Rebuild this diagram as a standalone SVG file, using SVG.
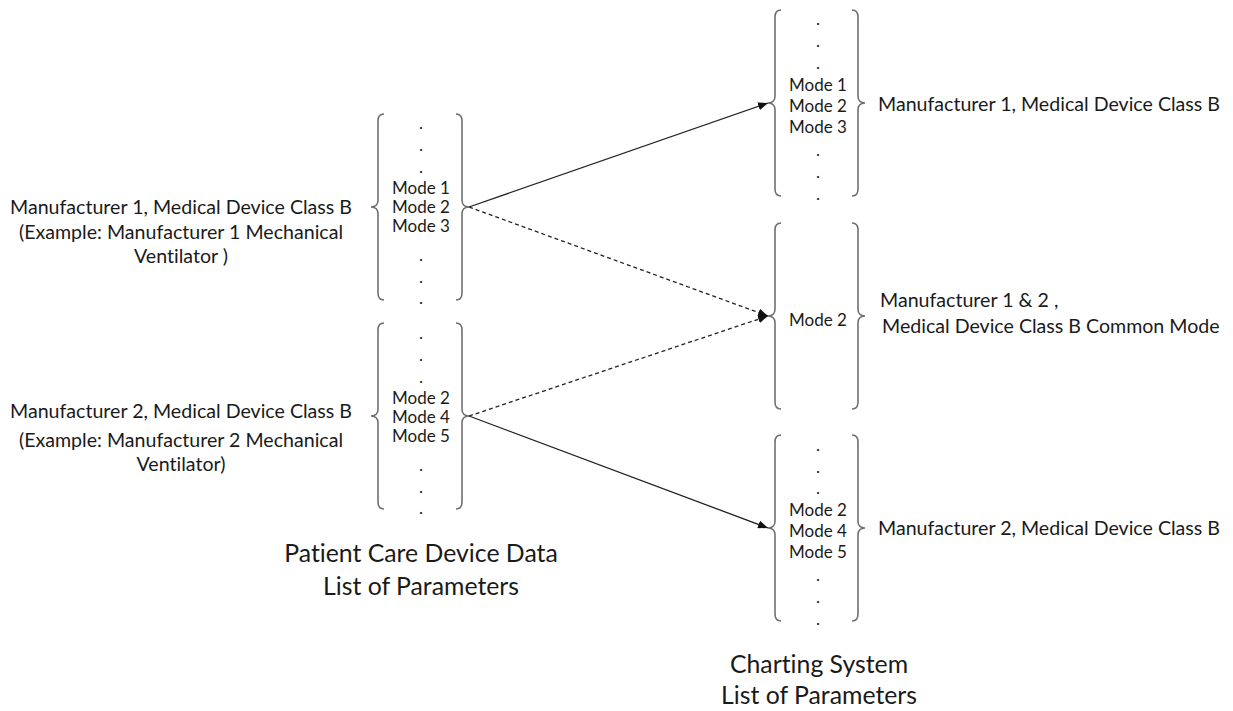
<svg xmlns="http://www.w3.org/2000/svg" width="1233" height="711" viewBox="0 0 1233 711">
  <style>
    text { font-family: Lato, "Liberation Sans", sans-serif; fill: #1a1a1a; font-variant-ligatures: none; }
    .mode { font-size: 17px; text-anchor: middle; }
    .label { font-size: 19.6px; }
    .lc { text-anchor: middle; }
    .caption { font-size: 24.8px; text-anchor: middle; }
    .brace { fill: none; stroke: #707070; stroke-width: 1.6; }
    .link { fill: none; stroke: #222; stroke-width: 1.3; }
    .dashed { stroke-dasharray: 4 3; }
  </style>
  <defs>
    <!-- opening curly brace, tip at (-7,0), spanning 186px -->
    <path id="brace" class="brace" d="M6,-93 Q0,-93 0,-86 L0,-7 Q0,0 -7,0 Q0,0 0,7 L0,86 Q0,93 6,93"/>
    <marker id="arrow" viewBox="0 0 10 8" refX="10" refY="4" markerWidth="10" markerHeight="8" markerUnits="userSpaceOnUse" orient="auto">
      <path d="M0,0 L10,4 L0,8 Z" fill="#111"/>
    </marker>
  </defs>

  <!-- patient care device: manufacturer 1 -->
  <g id="device-m1">
    <use href="#brace" transform="translate(378,207)"/>
    <use href="#brace" transform="translate(462,207) scale(-1,1)"/>
    <text class="mode" x="421" y="129">.</text>
    <text class="mode" x="421" y="151">.</text>
    <text class="mode" x="421" y="173">.</text>
    <text class="mode" x="421" y="194">Mode 1</text>
    <text class="mode" x="421" y="213">Mode 2</text>
    <text class="mode" x="421" y="232">Mode 3</text>
    <text class="mode" x="421" y="261">.</text>
    <text class="mode" x="421" y="283">.</text>
    <text class="mode" x="421" y="304">.</text>
  </g>
  <g id="device-m1-label">
    <text class="label lc" x="181" y="214">Manufacturer 1, Medical Device Class B</text>
    <text class="label lc" x="181" y="239">(Example: Manufacturer 1 Mechanical</text>
    <text class="label lc" x="181" y="263">Ventilator )</text>
  </g>

  <!-- patient care device: manufacturer 2 -->
  <g id="device-m2">
    <use href="#brace" transform="translate(378,416)"/>
    <use href="#brace" transform="translate(462,416) scale(-1,1)"/>
    <text class="mode" x="421" y="339">.</text>
    <text class="mode" x="421" y="361">.</text>
    <text class="mode" x="421" y="383">.</text>
    <text class="mode" x="421" y="404">Mode 2</text>
    <text class="mode" x="421" y="423">Mode 4</text>
    <text class="mode" x="421" y="442">Mode 5</text>
    <text class="mode" x="421" y="471">.</text>
    <text class="mode" x="421" y="493">.</text>
    <text class="mode" x="421" y="514">.</text>
  </g>
  <g id="device-m2-label">
    <text class="label lc" x="181" y="418">Manufacturer 2, Medical Device Class B</text>
    <text class="label lc" x="181" y="447">(Example: Manufacturer 2 Mechanical</text>
    <text class="label lc" x="181" y="471">Ventilator)</text>
  </g>

  <g id="device-caption">
    <text class="caption" x="421" y="562">Patient Care Device Data</text>
    <text class="caption" x="421" y="595">List of Parameters</text>
  </g>

  <!-- charting system: manufacturer 1 -->
  <g id="chart-m1">
    <use href="#brace" transform="translate(775,103)"/>
    <use href="#brace" transform="translate(858,103) scale(-1,1)"/>
    <text class="mode" x="818" y="25">.</text>
    <text class="mode" x="818" y="47">.</text>
    <text class="mode" x="818" y="69">.</text>
    <text class="mode" x="818" y="91">Mode 1</text>
    <text class="mode" x="818" y="112">Mode 2</text>
    <text class="mode" x="818" y="133">Mode 3</text>
    <text class="mode" x="818" y="156">.</text>
    <text class="mode" x="818" y="178">.</text>
    <text class="mode" x="818" y="200">.</text>
    <text class="label" x="878" y="111">Manufacturer 1, Medical Device Class B</text>
  </g>

  <!-- charting system: common mode -->
  <g id="chart-common">
    <use href="#brace" transform="translate(775,316)"/>
    <use href="#brace" transform="translate(858,316) scale(-1,1)"/>
    <text class="mode" x="818" y="326">Mode 2</text>
    <text class="label" x="880" y="307">Manufacturer 1 &amp; 2 ,</text>
    <text class="label" x="882" y="333">Medical Device Class B Common Mode</text>
  </g>

  <!-- charting system: manufacturer 2 -->
  <g id="chart-m2">
    <use href="#brace" transform="translate(775,528)"/>
    <use href="#brace" transform="translate(858,528) scale(-1,1)"/>
    <text class="mode" x="818" y="451">.</text>
    <text class="mode" x="818" y="473">.</text>
    <text class="mode" x="818" y="494">.</text>
    <text class="mode" x="818" y="516">Mode 2</text>
    <text class="mode" x="818" y="537">Mode 4</text>
    <text class="mode" x="818" y="558">Mode 5</text>
    <text class="mode" x="818" y="581">.</text>
    <text class="mode" x="818" y="603">.</text>
    <text class="mode" x="818" y="625">.</text>
    <text class="label" x="878" y="535">Manufacturer 2, Medical Device Class B</text>
  </g>

  <g id="chart-caption">
    <text class="caption" x="819" y="673">Charting System</text>
    <text class="caption" x="819" y="704">List of Parameters</text>
  </g>

  <!-- mappings between device modes and charting modes -->
  <g id="connectors">
    <line class="link" x1="469" y1="207" x2="768" y2="103" marker-end="url(#arrow)"/>
    <line class="link dashed" x1="469" y1="207" x2="768" y2="316" marker-end="url(#arrow)"/>
    <line class="link dashed" x1="469" y1="416" x2="768" y2="316" marker-end="url(#arrow)"/>
    <line class="link" x1="469" y1="416" x2="768" y2="528" marker-end="url(#arrow)"/>
  </g>
</svg>
